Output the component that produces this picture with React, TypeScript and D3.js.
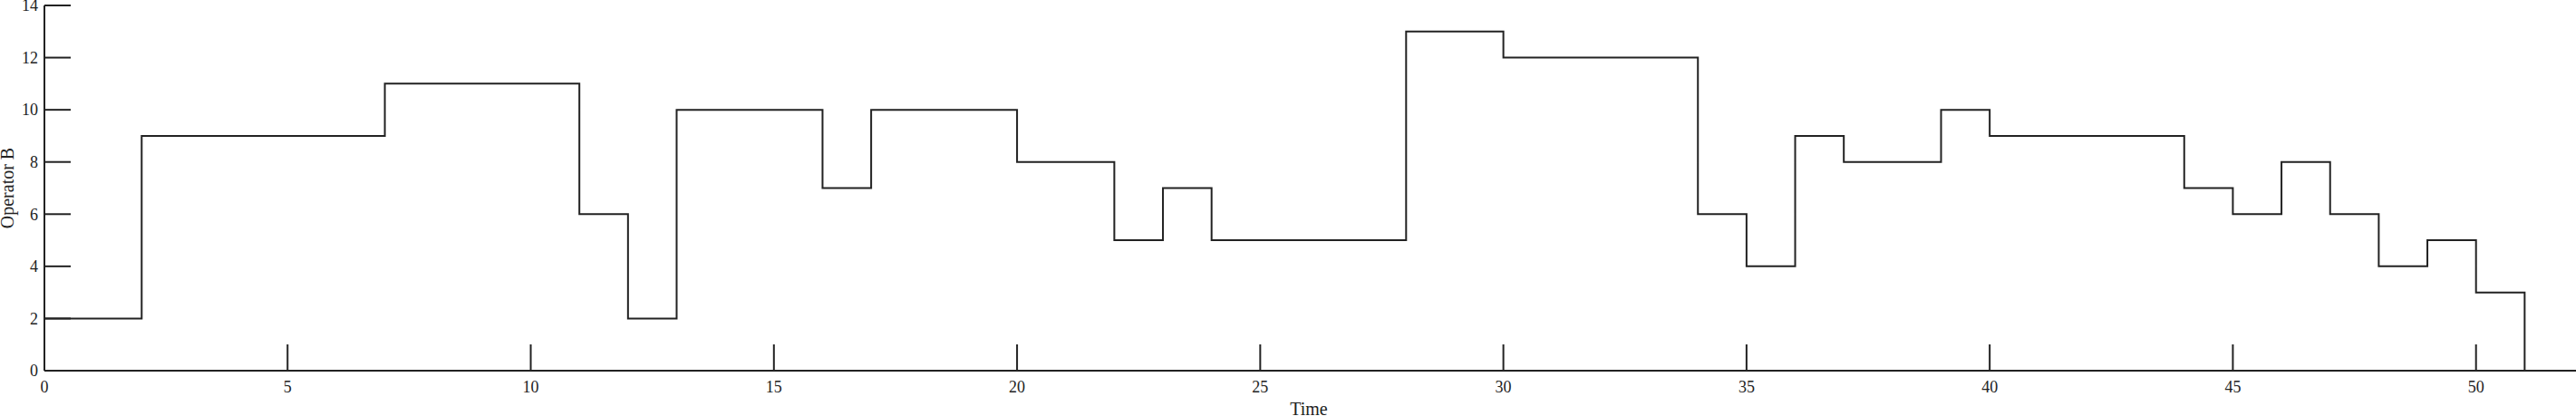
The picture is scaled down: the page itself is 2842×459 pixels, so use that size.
import React from "react";
import * as d3 from "d3";

const times = [0, 2, 7, 11, 12, 13, 16, 17, 20, 22, 23, 24, 28, 30, 34, 35, 36, 37, 39, 40, 44, 45, 46, 47, 48, 49, 50, 51];
const values = [2, 9, 11, 6, 2, 10, 7, 10, 8, 5, 7, 5, 13, 12, 6, 4, 9, 8, 10, 9, 7, 6, 8, 6, 4, 5, 3, 0];
const xTicks = [0, 5, 10, 15, 20, 25, 30, 35, 40, 45, 50];
const yTicks = [0, 2, 4, 6, 8, 10, 12, 14];

const W = 2842;
const H = 459;
const X0 = 49;
const X1 = 2839;
const Y0 = 409;
const Y1 = 6;
const TICK = 29;
const COLOR = "#222";
const FONT = "'Liberation Serif', 'Times New Roman', serif";

export default function App() {
  const x = d3.scaleLinear().domain([0, 52]).range([X0, X1]);
  const y = d3.scaleLinear().domain([0, 14]).range([Y0, Y1]);
  const pts: [number, number][] = times.map((t, i) => [t, values[i]]);
  const line = d3
    .line<[number, number]>()
    .x((d) => x(d[0]))
    .y((d) => y(d[1]))
    .curve(d3.curveStepAfter);

  return (
    <svg
      width={W}
      height={H}
      style={{ position: "absolute", left: 0, top: 0, background: "#fff" }}
      fontFamily={FONT}
    >
      {/* x axis */}
      <line x1={x(0)} x2={X1 + 3} y1={Y0} y2={Y0} stroke={COLOR} strokeWidth={2} />
      {xTicks.map((t) => (
        <g key={"x" + t}>
          <line x1={x(t)} x2={x(t)} y1={Y0} y2={Y0 - TICK} stroke={COLOR} strokeWidth={2} />
          <text x={x(t)} y={Y0 + 24} textAnchor="middle" fontSize={18} fill={COLOR}>
            {t}
          </text>
        </g>
      ))}
      {/* y axis */}
      <line x1={X0} x2={X0} y1={Y0} y2={Y1} stroke={COLOR} strokeWidth={2} />
      {yTicks.map((t) => (
        <g key={"y" + t}>
          <line x1={X0} x2={X0 + TICK} y1={y(t)} y2={y(t)} stroke={COLOR} strokeWidth={2} />
          <text x={X0 - 7} y={y(t)} dy="0.35em" textAnchor="end" fontSize={18} fill={COLOR}>
            {t}
          </text>
        </g>
      ))}
      <text x={(X0 + X1) / 2} y={458} textAnchor="middle" fontSize={20} fill={COLOR}>
        Time
      </text>
      <text
        transform={`translate(15, ${(Y0 + Y1) / 2}) rotate(-90)`}
        textAnchor="middle"
        fontSize={20}
        fill={COLOR}
      >
        Operator B
      </text>
      <path d={line(pts) || ""} fill="none" stroke={COLOR} strokeWidth={2} />
    </svg>
  );
}
